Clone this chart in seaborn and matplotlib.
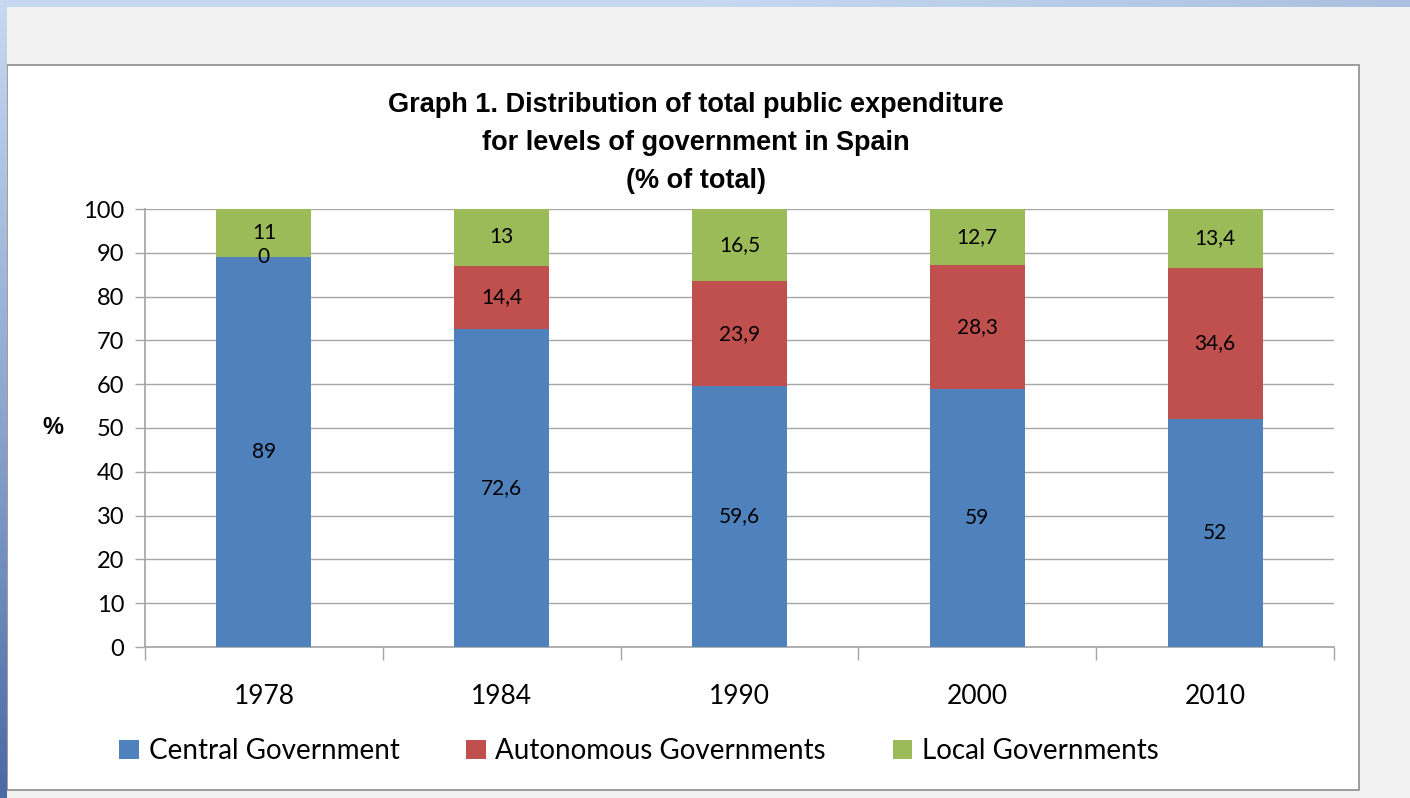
import numpy as np
import pandas as pd
import matplotlib
matplotlib.use("Agg")
import matplotlib.pyplot as plt
from matplotlib.patches import Rectangle, Patch
import seaborn as sns

# Données (% du total)
years = ["1978", "1984", "1990", "2000", "2010"]
central = [89, 72.6, 59.6, 59, 52]
autonomous = [0, 14.4, 23.9, 28.3, 34.6]
local = [11, 13, 16.5, 12.7, 13.4]
series_names = ["Central Government", "Autonomous Governments", "Local Governments"]
colors = ["#4f81bd", "#c0504d", "#9bbb59"]

df = pd.DataFrame({"Year": years, "Central": central,
                   "Autonomous": autonomous, "Local": local})
df["c1"] = df["Central"]
df["c2"] = df["Central"] + df["Autonomous"]
df["c3"] = df["c2"] + df["Local"]

sns.set_theme(style="white")
plt.rcParams["font.family"] = ["Lato", "DejaVu Sans"]
plt.rcParams["text.color"] = "black"

fig = plt.figure(figsize=(14.1, 7.98), dpi=100)
fig.patch.set_facecolor("#f2f2f2")

# bandes bleues (haut et gauche)
W, H = 1410, 798
top = fig.add_axes([0, 1 - 7 / H, 1, 7 / H])
top.imshow(np.linspace(0, 1, 200).reshape(1, -1), aspect="auto",
           cmap=matplotlib.colors.LinearSegmentedColormap.from_list("t", ["#c6d9f1", "#c6d9f1", "#a9c0e0"]))
top.axis("off")
left = fig.add_axes([0, 0, 7 / W, 1])
left.imshow(np.linspace(0, 1, 200).reshape(-1, 1), aspect="auto",
            cmap=matplotlib.colors.LinearSegmentedColormap.from_list("l", ["#c6d9f1", "#8fa8d0", "#4a6aa5"]))
left.axis("off")

# cadre blanc du graphique
fig.patches.append(Rectangle((7 / W, 1 - 790 / H), (1359 - 7) / W, (790 - 65) / H,
                             transform=fig.transFigure, facecolor="white",
                             edgecolor="#8c8c8c", linewidth=1.2, zorder=-5))

ax = fig.add_axes([145 / W, 1 - 647 / H, (1334 - 145) / W, (647 - 209) / H])
ax.set_zorder(2)
ax.set_facecolor("white")

# barres empilées : on dessine les cumuls du plus haut au plus bas
for col, c in zip(["c3", "c2", "c1"], [colors[2], colors[1], colors[0]]):
    sns.barplot(data=df, x="Year", y=col, color=c, width=0.4, saturation=1,
                linewidth=0, ax=ax, zorder=3)

def fmt(v):
    s = f"{v:g}"
    return s.replace(".", ",")

for i in range(len(years)):
    bottoms = [0, df["c1"][i], df["c2"][i]]
    vals = [central[i], autonomous[i], local[i]]
    for b, v in zip(bottoms, vals):
        ax.text(i, b + v / 2, fmt(v), ha="center", va="center", fontsize=15,
                color="black", zorder=5, family=["Lato", "DejaVu Sans"])

ax.set_ylim(0, 100)
ax.set_xlim(-0.5, 4.5)
ax.set_yticks(range(0, 101, 10))
ax.yaxis.grid(True, color="#a6a6a6", linewidth=1)
ax.set_axisbelow(True)
for s in ["top", "right"]:
    ax.spines[s].set_visible(False)
ax.spines["left"].set_color("#a6a6a6")
ax.spines["bottom"].set_color("#a6a6a6")
ax.tick_params(axis="y", left=True, length=7, width=1, color="#a6a6a6",
               labelsize=17, pad=8, labelcolor="black")
ax.set_xticks(np.arange(0, 5))
ax.tick_params(axis="x", bottom=False, labelsize=19, pad=21, labelcolor="black")
ax.set_xticks(np.arange(-0.5, 5.0, 1), minor=True)
ax.tick_params(axis="x", which="minor", bottom=True, length=9, width=1, color="#a6a6a6")
ax.set_xlabel("")
ax.set_ylabel("")

fig.text(53 / W, 1 - 427 / H, "%", fontsize=17, fontweight="bold",
         ha="center", va="center", family="Liberation Sans", color="black")
fig.text(696 / W, 1 - 142.5 / H,
         "Graph 1. Distribution of total public expenditure\nfor levels of government in Spain\n(% of total)",
         fontsize=19.5, fontweight="bold", ha="center", va="center",
         family="Liberation Sans", linespacing=1.6, color="black")

handles = [Patch(facecolor=c, edgecolor="none") for c in colors]
fig.legend(handles, series_names, loc="center", bbox_to_anchor=(639 / W, 1 - 751 / H),
           ncol=3, frameon=False, fontsize=20, handlelength=0.7, handleheight=0.7,
           handletextpad=0.35, columnspacing=2.4, labelcolor="black")

fig.savefig("out.png", dpi=100, facecolor=fig.get_facecolor())
